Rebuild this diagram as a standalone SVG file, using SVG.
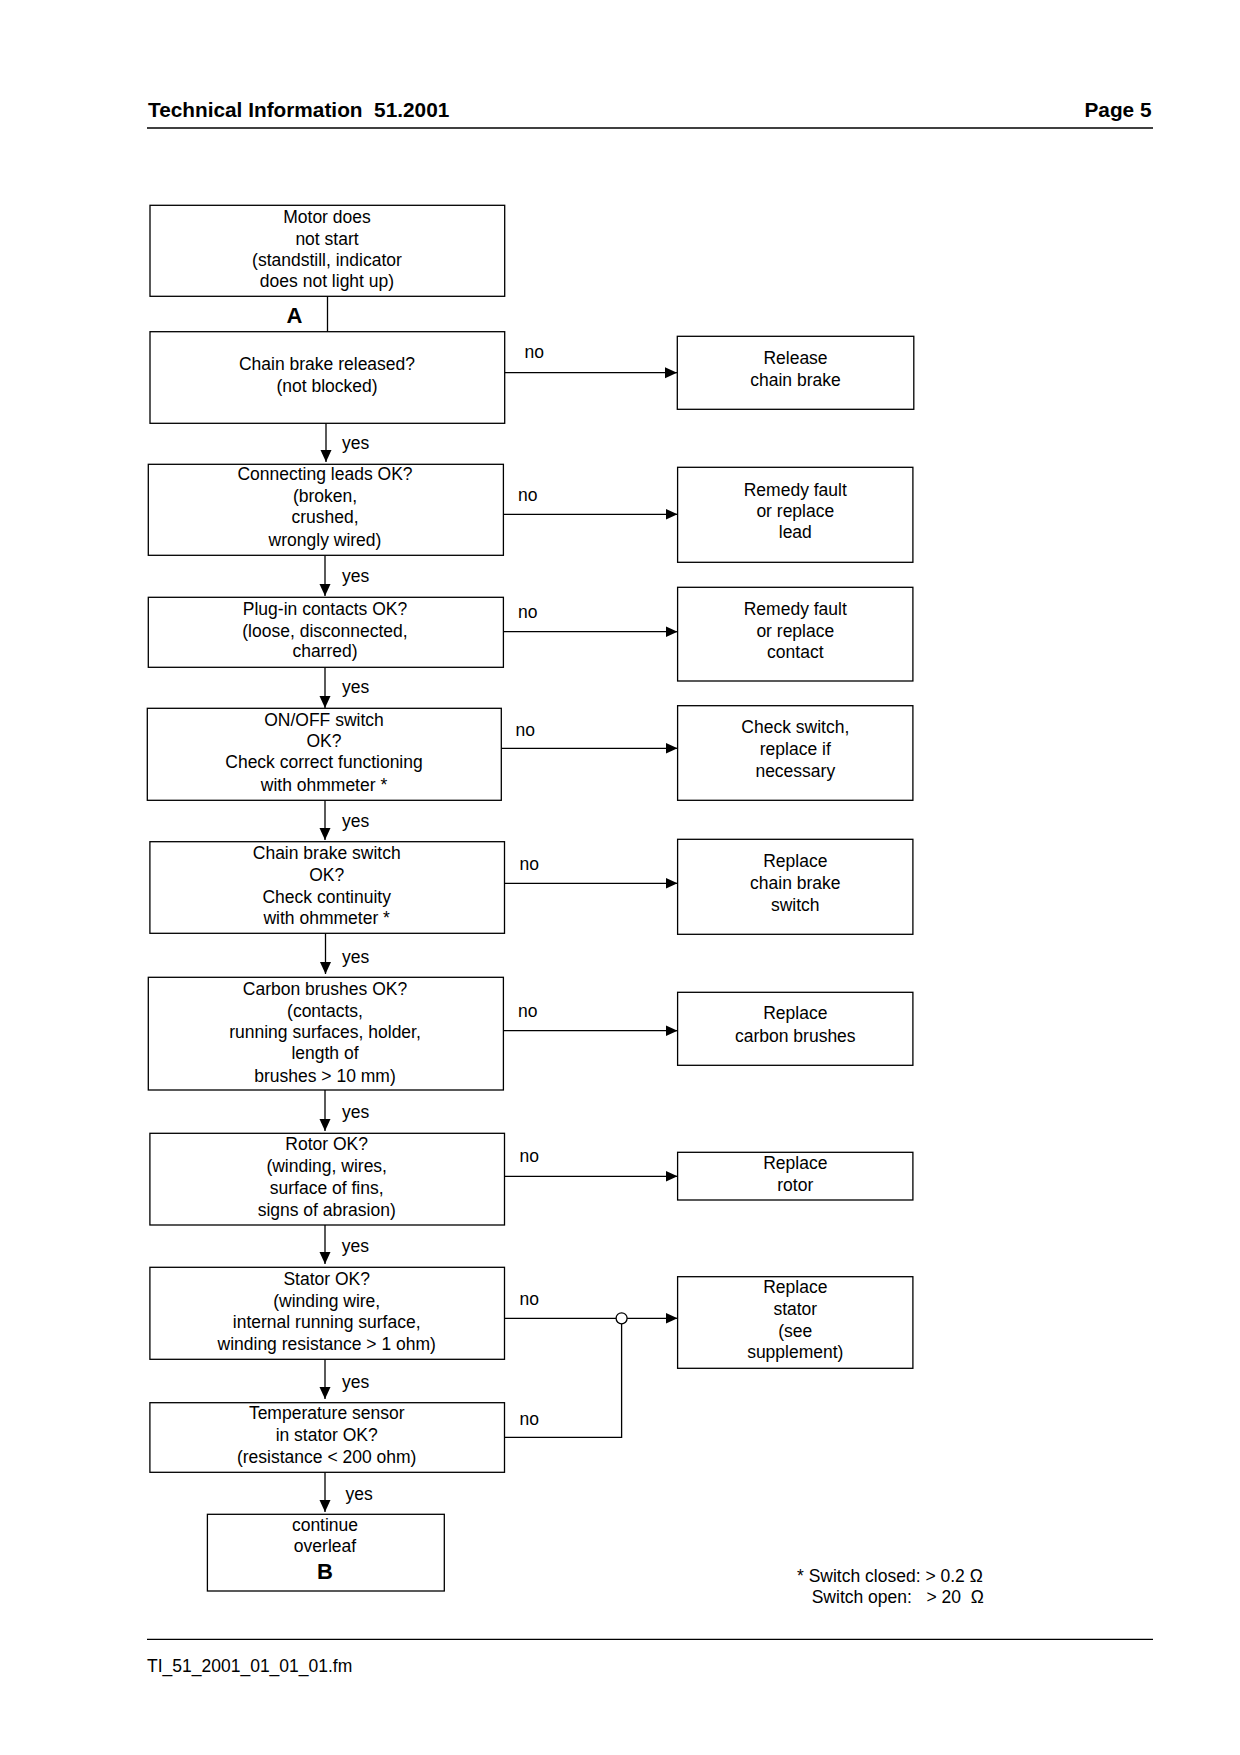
<svg xmlns="http://www.w3.org/2000/svg" width="1240" height="1755" viewBox="0 0 1240 1755">
<style>
  .box { fill: #fff; stroke: #000; stroke-width: 1.3; }
  .t { font-family: "Liberation Sans", Arial, sans-serif; font-size: 17.5px; fill: #000; text-anchor: middle; }
  .lbl { font-family: "Liberation Sans", Arial, sans-serif; font-size: 17.5px; fill: #000; }
  .big { font-family: "Liberation Sans", Arial, sans-serif; font-size: 22px; font-weight: bold; fill: #000; text-anchor: middle; }
  .hdr { font-family: "Liberation Sans", Arial, sans-serif; font-size: 20.8px; font-weight: bold; fill: #000; }
  .conn { fill: none; stroke: #000; stroke-width: 1.3; }
</style>
<defs>
  <marker id="ah" markerUnits="userSpaceOnUse" markerWidth="13" markerHeight="12" refX="12" refY="5.5" orient="auto">
    <path d="M0,0 L12,5.5 L0,11 z" fill="#000"/>
  </marker>
</defs>
<rect width="1240" height="1755" fill="#fff"/>

<g id="header">
  <text class="hdr" x="148" y="116.7" xml:space="preserve">Technical Information  51.2001</text>
  <text class="hdr" x="1151.5" y="116.7" text-anchor="end">Page 5</text>
  <line x1="147" y1="128" x2="1153" y2="128" stroke="#000" stroke-width="1.5"/>
</g>

<g id="connectors">
  <line class="conn" x1="327.5" y1="296" x2="327.5" y2="332"/>
  <line class="conn" x1="505" y1="372.7" x2="677" y2="372.7" marker-end="url(#ah)"/>
  <line class="conn" x1="326" y1="423" x2="326" y2="462" marker-end="url(#ah)"/>
  <line class="conn" x1="503.5" y1="514.3" x2="677.5" y2="514.3" marker-end="url(#ah)"/>
  <line class="conn" x1="325" y1="555.5" x2="325" y2="596" marker-end="url(#ah)"/>
  <line class="conn" x1="503.5" y1="631.7" x2="677.5" y2="631.7" marker-end="url(#ah)"/>
  <line class="conn" x1="325" y1="667.5" x2="325" y2="708" marker-end="url(#ah)"/>
  <line class="conn" x1="501.5" y1="748.3" x2="677.5" y2="748.3" marker-end="url(#ah)"/>
  <line class="conn" x1="325" y1="800.5" x2="325" y2="840" marker-end="url(#ah)"/>
  <line class="conn" x1="504.5" y1="883.3" x2="677.5" y2="883.3" marker-end="url(#ah)"/>
  <line class="conn" x1="325.5" y1="933.3" x2="325.5" y2="974" marker-end="url(#ah)"/>
  <line class="conn" x1="503.5" y1="1030.7" x2="677.5" y2="1030.7" marker-end="url(#ah)"/>
  <line class="conn" x1="325" y1="1090" x2="325" y2="1131" marker-end="url(#ah)"/>
  <line class="conn" x1="504.5" y1="1176.3" x2="677.5" y2="1176.3" marker-end="url(#ah)"/>
  <line class="conn" x1="325" y1="1225" x2="325" y2="1264" marker-end="url(#ah)"/>
  <line class="conn" x1="504.5" y1="1318.3" x2="616.1" y2="1318.3"/>
  <circle class="conn" cx="621.6" cy="1318.3" r="5.5"/>
  <line class="conn" x1="627.1" y1="1318.3" x2="677.5" y2="1318.3" marker-end="url(#ah)"/>
  <line class="conn" x1="325" y1="1359.3" x2="325" y2="1399" marker-end="url(#ah)"/>
  <polyline class="conn" points="504.5,1437.3 621.6,1437.3 621.6,1323.8"/>
  <line class="conn" x1="325" y1="1472.3" x2="325" y2="1512" marker-end="url(#ah)"/>

  <text class="lbl" x="524.5" y="358">no</text>
  <text class="lbl" x="342" y="449">yes</text>
  <text class="lbl" x="518" y="501">no</text>
  <text class="lbl" x="342" y="582.3">yes</text>
  <text class="lbl" x="518" y="617.7">no</text>
  <text class="lbl" x="342" y="693.3">yes</text>
  <text class="lbl" x="515.5" y="736">no</text>
  <text class="lbl" x="342" y="826.5">yes</text>
  <text class="lbl" x="519.6" y="870">no</text>
  <text class="lbl" x="342" y="963.3">yes</text>
  <text class="lbl" x="518" y="1016.7">no</text>
  <text class="lbl" x="342" y="1118.3">yes</text>
  <text class="lbl" x="519.6" y="1162.3">no</text>
  <text class="lbl" x="341.8" y="1251.7">yes</text>
  <text class="lbl" x="519.6" y="1305">no</text>
  <text class="lbl" x="342" y="1387.7">yes</text>
  <text class="lbl" x="519.6" y="1425">no</text>
  <text class="lbl" x="345.5" y="1500">yes</text>
</g>

<g id="motor">
  <rect class="box" x="150" y="205.3" width="354.7" height="91"/>
  <text class="t" x="327" y="222.7">Motor does</text>
  <text class="t" x="327" y="244.7">not start</text>
  <text class="t" x="327" y="265.7">(standstill, indicator</text>
  <text class="t" x="327" y="287.3">does not light up)</text>
</g>
<g id="labelA"><text class="big" x="294.5" y="323">A</text></g>

<g id="chainbrake">
  <rect class="box" x="150" y="331.7" width="354.7" height="91.6"/>
  <text class="t" x="327" y="370">Chain brake released?</text>
  <text class="t" x="327" y="391.7">(not blocked)</text>
</g>
<g id="release">
  <rect class="box" x="677.3" y="336.3" width="236.5" height="73"/>
  <text class="t" x="795.5" y="364">Release</text>
  <text class="t" x="795.5" y="386">chain brake</text>
</g>

<g id="leads">
  <rect class="box" x="148.3" y="464.3" width="355.1" height="91"/>
  <text class="t" x="325" y="480">Connecting leads OK?</text>
  <text class="t" x="325" y="502.3">(broken,</text>
  <text class="t" x="325" y="523.3">crushed,</text>
  <text class="t" x="325" y="546">wrongly wired)</text>
</g>
<g id="remedylead">
  <rect class="box" x="677.6" y="467.3" width="235.3" height="95"/>
  <text class="t" x="795.3" y="495.7">Remedy fault</text>
  <text class="t" x="795.3" y="517.3">or replace</text>
  <text class="t" x="795.3" y="538.3">lead</text>
</g>

<g id="plugin">
  <rect class="box" x="148.3" y="597.3" width="355.1" height="70"/>
  <text class="t" x="325" y="615">Plug-in contacts OK?</text>
  <text class="t" x="325" y="636.7">(loose, disconnected,</text>
  <text class="t" x="325" y="657.3">charred)</text>
</g>
<g id="remedycontact">
  <rect class="box" x="677.6" y="587.3" width="235.3" height="93.7"/>
  <text class="t" x="795.3" y="614.7">Remedy fault</text>
  <text class="t" x="795.3" y="636.7">or replace</text>
  <text class="t" x="795.3" y="658.3">contact</text>
</g>

<g id="onoff">
  <rect class="box" x="147.3" y="708.3" width="354" height="92"/>
  <text class="t" x="324" y="725.7">ON/OFF switch</text>
  <text class="t" x="324" y="747.3">OK?</text>
  <text class="t" x="324" y="768.3">Check correct functioning</text>
  <text class="t" x="324" y="790.7">with ohmmeter *</text>
</g>
<g id="checkswitch">
  <rect class="box" x="677.6" y="705.7" width="235.3" height="94.6"/>
  <text class="t" x="795.3" y="732.7">Check switch,</text>
  <text class="t" x="795.3" y="755">replace if</text>
  <text class="t" x="795.3" y="776.7">necessary</text>
</g>

<g id="cbswitch">
  <rect class="box" x="149.9" y="841.7" width="354.6" height="91.6"/>
  <text class="t" x="326.7" y="859">Chain brake switch</text>
  <text class="t" x="326.7" y="880.7">OK?</text>
  <text class="t" x="326.7" y="902.7">Check continuity</text>
  <text class="t" x="326.7" y="924.3">with ohmmeter *</text>
</g>
<g id="replacecbswitch">
  <rect class="box" x="677.6" y="839.3" width="235.3" height="95"/>
  <text class="t" x="795.3" y="867.3">Replace</text>
  <text class="t" x="795.3" y="889">chain brake</text>
  <text class="t" x="795.3" y="910.7">switch</text>
</g>

<g id="carbon">
  <rect class="box" x="148.3" y="977.3" width="355.1" height="112.7"/>
  <text class="t" x="325" y="995">Carbon brushes OK?</text>
  <text class="t" x="325" y="1016.7">(contacts,</text>
  <text class="t" x="325" y="1038.3">running surfaces, holder,</text>
  <text class="t" x="325" y="1059.3">length of</text>
  <text class="t" x="325" y="1081.7">brushes &gt; 10 mm)</text>
</g>
<g id="replacecarbon">
  <rect class="box" x="677.6" y="992.3" width="235.3" height="73"/>
  <text class="t" x="795.3" y="1019.3">Replace</text>
  <text class="t" x="795.3" y="1041.7">carbon brushes</text>
</g>

<g id="rotor">
  <rect class="box" x="149.9" y="1133.3" width="354.6" height="91.7"/>
  <text class="t" x="326.7" y="1150">Rotor OK?</text>
  <text class="t" x="326.7" y="1172.3">(winding, wires,</text>
  <text class="t" x="326.7" y="1194">surface of fins,</text>
  <text class="t" x="326.7" y="1216">signs of abrasion)</text>
</g>
<g id="replacerotor">
  <rect class="box" x="677.6" y="1152.3" width="235.3" height="47.7"/>
  <text class="t" x="795.3" y="1169">Replace</text>
  <text class="t" x="795.3" y="1191">rotor</text>
</g>

<g id="stator">
  <rect class="box" x="149.9" y="1267.3" width="354.6" height="92"/>
  <text class="t" x="326.7" y="1285">Stator OK?</text>
  <text class="t" x="326.7" y="1306.7">(winding wire,</text>
  <text class="t" x="326.7" y="1328.3">internal running surface,</text>
  <text class="t" x="326.7" y="1350">winding resistance &gt; 1 ohm)</text>
</g>
<g id="replacestator">
  <rect class="box" x="677.6" y="1276.7" width="235.3" height="91.6"/>
  <text class="t" x="795.3" y="1293.3">Replace</text>
  <text class="t" x="795.3" y="1315">stator</text>
  <text class="t" x="795.3" y="1336.7">(see</text>
  <text class="t" x="795.3" y="1358.3">supplement)</text>
</g>

<g id="tempsensor">
  <rect class="box" x="149.9" y="1402.7" width="354.6" height="69.6"/>
  <text class="t" x="326.7" y="1419.3">Temperature sensor</text>
  <text class="t" x="326.7" y="1441">in stator OK?</text>
  <text class="t" x="326.7" y="1463.3">(resistance &lt; 200 ohm)</text>
</g>

<g id="continue">
  <rect class="box" x="207.4" y="1514.3" width="236.9" height="76.7"/>
  <text class="t" x="325" y="1531">continue</text>
  <text class="t" x="325" y="1551.7">overleaf</text>
  <text class="big" x="325" y="1579">B</text>
</g>

<g id="footnote">
  <text class="lbl" x="797" y="1581.7">* Switch closed: &gt; 0.2 Ω</text>
  <text class="lbl" x="811.7" y="1603.3" xml:space="preserve">Switch open:   &gt; 20  Ω</text>
</g>

<g id="footer">
  <line x1="147" y1="1639.3" x2="1153" y2="1639.3" stroke="#000" stroke-width="1.3"/>
  <text class="lbl" x="147" y="1671.7">TI_51_2001_01_01_01.fm</text>
</g>
</svg>
